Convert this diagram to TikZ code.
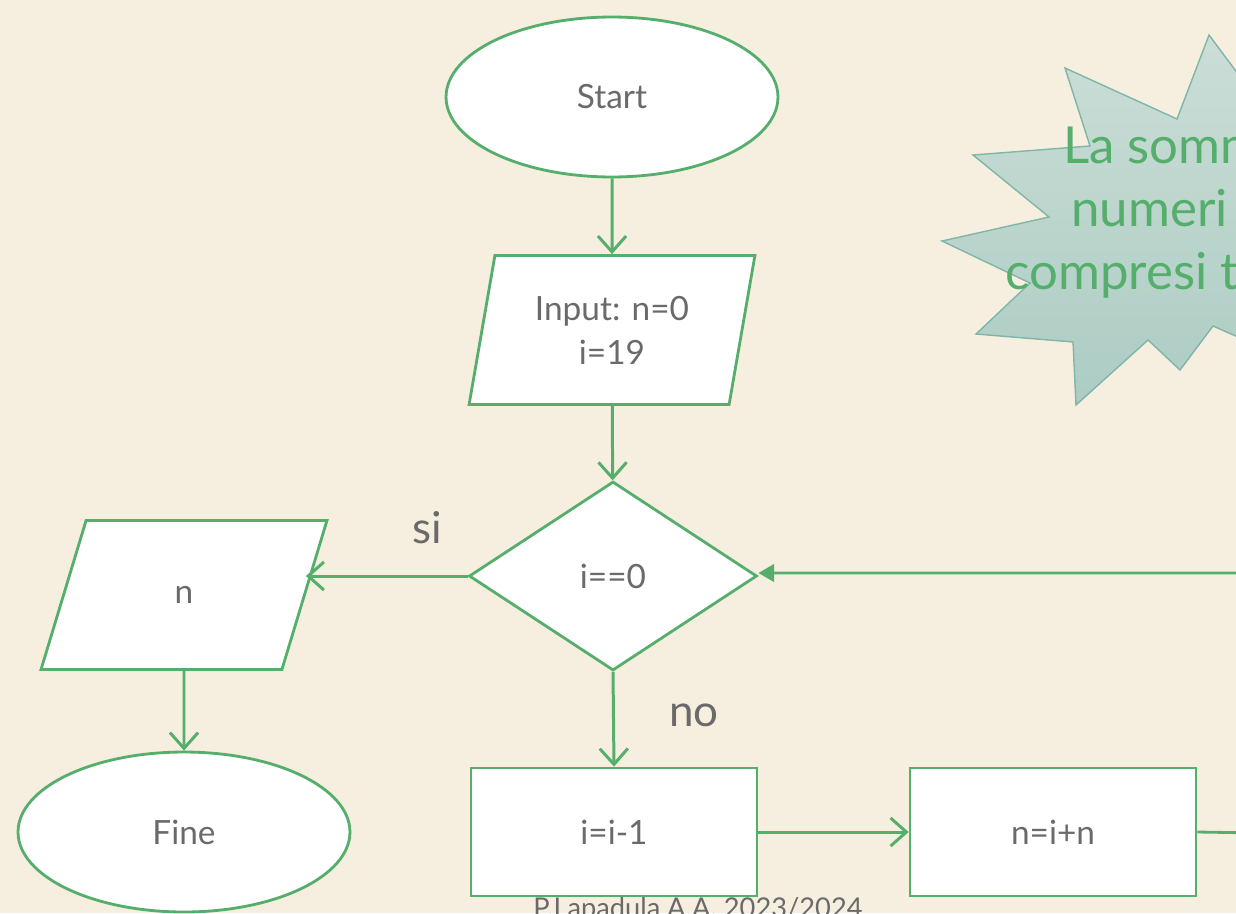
\documentclass[tikz,border=0pt]{standalone}
\usepackage{fontspec}
\setmainfont{Lato}
\usetikzlibrary{shapes.geometric,arrows.meta}
\definecolor{bgcream}{HTML}{F6EFDF}
\definecolor{flowgreen}{HTML}{55AE6B}
\definecolor{txtgrey}{HTML}{6A6A6A}
\definecolor{startop}{HTML}{CBDED7}
\definecolor{starbot}{HTML}{ACCCC3}
\definecolor{staredge}{HTML}{80B6A9}
\tikzset{
	flow/.style={draw=flowgreen, line width=1.6pt, fill=white, text=txtgrey, font=\fontsize{19}{25}\selectfont, align=center, inner sep=0pt},
	terminal/.style={flow, ellipse, minimum width=6.64cm, minimum height=3.2cm},
	io/.style={flow, trapezium, trapezium left angle=76, trapezium right angle=104, trapezium stretches=true, minimum width=5.72cm, minimum height=2.98cm},
	decision/.style={flow, diamond, minimum width=5.76cm, minimum height=3.78cm},
	process/.style={flow, rectangle, minimum width=5.72cm, minimum height=2.56cm},
	link/.style={draw=flowgreen, line width=1.7pt, -{Straight Barb[length=9pt,width=16pt]}},
	loopback/.style={draw=flowgreen, line width=1.6pt, -{Triangle[length=9pt,width=10pt]}},
	branch/.style={text=txtgrey, font=\fontsize{25}{30}\selectfont},
	bursttext/.style={text=flowgreen, font=\fontsize{29}{34}\selectfont, anchor=base west, inner sep=0pt}
}
\begin{document}
\begin{tikzpicture}[x=0.02cm, y=-0.02cm]
	\clip (0,0) rectangle (1236,913);
	\fill[bgcream] (0,0) rectangle (1236,913);
	
	% nuvola con il testo
	\filldraw[draw=staredge, line width=0.8pt, top color=startop, bottom color=starbot]
		(1209,35) -- (1177,119) -- (1065,68) -- (1090,146) -- (973,155) -- (1049,217)
		-- (942,241) -- (1030,283) -- (976,334) -- (1073,342) -- (1076,405) -- (1148,340)
		-- (1180,370) -- (1213,326) -- (1290,360) -- (1320,200) -- (1290,60) -- (1250,90) -- cycle;
	\node (bursta) [bursttext] at (1063,163) {La somm};
	\node (burstb) [bursttext] at (1071,226) {numeri};
	\node (burstc) [bursttext] at (1005,289) {compresi t};
	
	\node (start) [terminal] at (612,97) {Start};
	\node (input) [io] at (612,330) {Input: n=0\\i=19};
	\node (cond) [decision] at (613,576) {i==0};
	\node (out) [io] at (184,595) {n};
	\node (fine) [terminal] at (184,832) {Fine};
	\node (dec) [process] at (614,832) {i=i-1};
	\node (sum) [process] at (1053,832) {n=i+n};
	
	\node (si) [branch] at (427,528) {si};
	\node (no) [branch] at (694,715) {no};
	\node (footer) [text=txtgrey, font=\fontsize{15.5}{18}\selectfont, anchor=base] at (698,917) {P.Lapadula A.A. 2023/2024};
	
	\coordinate (loopdown) at (1260,833);
	\coordinate (loopup) at (1260,573);
	
	\draw[link] (start) -- (input);
	\draw[link] (input) -- (cond);
	\draw[link] (cond.west) -- (out.east |- cond.west);
	\draw[link] (out) -- (fine);
	\draw[link] (cond.south) -- (dec.north);
	\draw[link] (dec) -- (sum);
	\draw[loopback] (sum.east) -- (loopdown) -- (loopup) -- (cond.east |- loopup);
\end{tikzpicture}
\end{document}
